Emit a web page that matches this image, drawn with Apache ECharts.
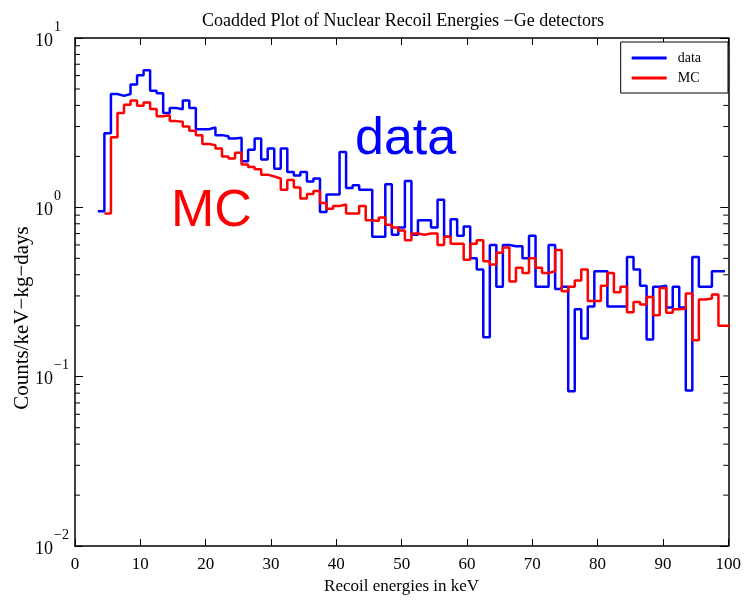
<!DOCTYPE html>
<html><head><meta charset="utf-8">
<script src="https://cdn.jsdelivr.net/npm/echarts@6/dist/echarts.min.js"></script>
<style>html,body{margin:0;padding:0;background:#fff}#c{width:744px;height:600px}</style>
</head><body><div id="c"></div>
<script>
const chartTitle = 'Coadded Plot of Nuclear Recoil Energies \u2212Ge detectors';
const xAxisName = 'Recoil energies in keV';
const yAxisName = 'Counts/keV\u2212kg\u2212days';
const seriesNames = ['data', 'MC'];
const binWidth = 1;            // keV
const dataFirstBin = 4;        // centre of first data bin, keV
const dataValues = [
  0.95, 2.74, 4.67, 4.55, 4.67, 5.32, 6.02, 6.44, 4.88, 4.72,
  3.61, 3.86, 3.80, 4.27, 3.86, 2.89, 2.89, 2.96, 2.67, 2.63,
  2.55, 2.58, 1.87, 2.19, 2.55, 1.92, 2.23, 1.69, 2.23, 1.62,
  1.54, 1.62, 1.42, 1.48, 0.94, 1.19, 1.19, 2.12, 1.30, 1.35,
  1.27, 1.27, 0.67, 0.67, 1.37, 0.69, 0.76, 1.43, 0.69, 0.84,
  0.84, 0.76, 1.11, 0.67, 0.85, 0.68, 0.77, 0.50, 0.43, 0.171,
  0.60, 0.34, 0.60, 0.59, 0.59, 0.50, 0.68, 0.34, 0.34, 0.60,
  0.33, 0.34, 0.082, 0.25, 0.168, 0.26, 0.42, 0.42, 0.26, 0.26,
  0.26, 0.51, 0.43, 0.345, 0.166, 0.34, 0.345, 0.256, 0.34, 0.256,
  0.083, 0.51, 0.34, 0.34, 0.42, 0.42
];
const mcFirstBin = 5;
const mcValues = [
  0.92, 2.59, 3.61, 4.03, 4.27, 3.98, 4.16, 3.81, 3.45, 3.50,
  3.23, 3.20, 3.00, 2.83, 2.67, 2.37, 2.33, 2.23, 2.00, 1.94,
  2.10, 1.79, 1.73, 1.68, 1.56, 1.52, 1.48, 1.27, 1.45, 1.31,
  1.13, 1.20, 1.25, 1.06, 0.98, 1.02, 1.04, 0.92, 0.92, 1.02,
  0.84, 0.83, 0.87, 0.79, 0.76, 0.73, 0.64, 0.70, 0.69, 0.70,
  0.70, 0.60, 0.67, 0.61, 0.61, 0.49, 0.61, 0.64, 0.48, 0.46,
  0.54, 0.58, 0.365, 0.44, 0.41, 0.50, 0.44, 0.41, 0.42, 0.56,
  0.32, 0.34, 0.37, 0.43, 0.28, 0.28, 0.345, 0.41, 0.315, 0.34,
  0.24, 0.276, 0.267, 0.296, 0.231, 0.334, 0.239, 0.25, 0.252, 0.31,
  0.164, 0.286, 0.29, 0.306, 0.20, 0.20
];
const xMin = 0, xMax = 100, xInterval = 10;
const yMin = 0.01, yMax = 10;
const yMinorTickValues = [
  0.02,0.03,0.04,0.05,0.06,0.07,0.08,0.09,
  0.2,0.3,0.4,0.5,0.6,0.7,0.8,0.9,
  2,3,4,5,6,7,8,9
];
const annotations = [
  { text: 'data', color: '#0000ff' },
  { text: 'MC', color: '#ff0000' }
];

function stepPoints(first, vals) {
  const pts = vals.map((v, i) => [first + i * binWidth - binWidth / 2, v]);
  pts.push([first + vals.length * binWidth - binWidth / 2, vals[vals.length - 1]]);
  return pts;
}

const serif = 'Liberation Serif';
const chart = echarts.init(document.getElementById('c'), null, { renderer: 'canvas' });

const axisLine = { show: true, onZero: false, lineStyle: { color: '#000', width: 1.5 } };
const yLabelFmt = v => {
  const e = Math.round(Math.log10(v));
  return '{b|10}{e|' + (e < 0 ? '\u2212' + (-e) : e) + '}';
};

chart.setOption({
  animation: false,
  backgroundColor: '#fff',
  title: {
    text: chartTitle, left: 398, top: 7, textAlign: 'center',
    textStyle: { fontFamily: serif, fontSize: 18, fontWeight: 'normal', color: '#000' }
  },
  legend: {
    data: seriesNames, orient: 'vertical', right: 16, top: 42,
    borderColor: '#000', borderWidth: 1, backgroundColor: '#fff',
    padding: [9, 27, 8, 11], itemGap: 6, itemWidth: 35, itemHeight: 3, icon: 'rect',
    textStyle: { fontFamily: serif, fontSize: 14, color: '#000', padding: [0, 0, 0, 6] }
  },
  grid: { left: 75, right: 11, top: 38, bottom: 45, containLabel: false },
  xAxis: [{
    type: 'value', min: xMin, max: xMax, interval: xInterval, position: 'bottom',
    axisLine: axisLine,
    axisTick: { inside: true, length: 7, lineStyle: { color: '#000' } },
    axisLabel: { fontFamily: serif, fontSize: 17, color: '#000', margin: 10 },
    splitLine: { show: false },
    name: xAxisName, nameLocation: 'middle', nameGap: 28,
    nameTextStyle: { fontFamily: serif, fontSize: 17, color: '#000' }
  }, {
    type: 'value', min: xMin, max: xMax, interval: xInterval, position: 'top',
    axisLine: axisLine,
    axisTick: { inside: true, length: 7, lineStyle: { color: '#000' } },
    axisLabel: { show: false }, splitLine: { show: false }
  }],
  yAxis: [{
    type: 'log', logBase: 10, min: yMin, max: yMax, position: 'left',
    axisLine: axisLine,
    axisTick: { inside: true, length: 8, lineStyle: { color: '#000' } },
    axisLabel: {
      formatter: yLabelFmt, align: 'left', margin: 40,
      rich: {
        b: { fontFamily: serif, fontSize: 18, color: '#000', padding: [6, 0, 0, 0] },
        e: { fontFamily: serif, fontSize: 14, color: '#000', padding: [0, 0, 22, 1] }
      }
    },
    splitLine: { show: false }
  }, {
    type: 'log', logBase: 10, min: yMin, max: yMax, position: 'right',
    axisLine: axisLine,
    axisTick: { inside: true, length: 8, lineStyle: { color: '#000' } },
    axisLabel: { show: false }, splitLine: { show: false }
  }],
  graphic: [
    { type: 'text', x: 22, y: 318, rotation: Math.PI / 2,
      style: { text: yAxisName, fill: '#000', font: '21px "Liberation Serif"', align: 'center', verticalAlign: 'middle' } },
    { type: 'text', left: 355, top: 114, style: { text: annotations[0].text, fill: annotations[0].color, font: '52px "Liberation Sans"' } },
    { type: 'text', left: 171, top: 186, style: { text: annotations[1].text, fill: annotations[1].color, font: '52px "Liberation Sans"' } }
  ],
  series: [{
    name: seriesNames[0], type: 'line', step: 'end', showSymbol: false, clip: true,
    data: stepPoints(dataFirstBin, dataValues),
    color: '#0000ff', lineStyle: { width: 2.5, color: '#0000ff' }, z: 3
  }, {
    name: seriesNames[1], type: 'line', step: 'end', showSymbol: false, clip: true,
    data: stepPoints(mcFirstBin, mcValues),
    color: '#ff0000', lineStyle: { width: 2.5, color: '#ff0000' }, z: 4
  }, {
    name: 'minorTicks', type: 'custom', silent: true, clip: false,
    data: yMinorTickValues.map(v => [xMin, v]),
    renderItem: (params, api) => {
      const v = api.value(1);
      const l = api.coord([xMin, v]);
      const r = api.coord([xMax, v]);
      return { type: 'group', children: [
        { type: 'line', shape: { x1: l[0], y1: l[1], x2: l[0] + 5, y2: l[1] }, style: { stroke: '#000', lineWidth: 1 } },
        { type: 'line', shape: { x1: r[0] - 5, y1: r[1], x2: r[0], y2: r[1] }, style: { stroke: '#000', lineWidth: 1 } }
      ] };
    }
  }]
});
</script></body></html>
